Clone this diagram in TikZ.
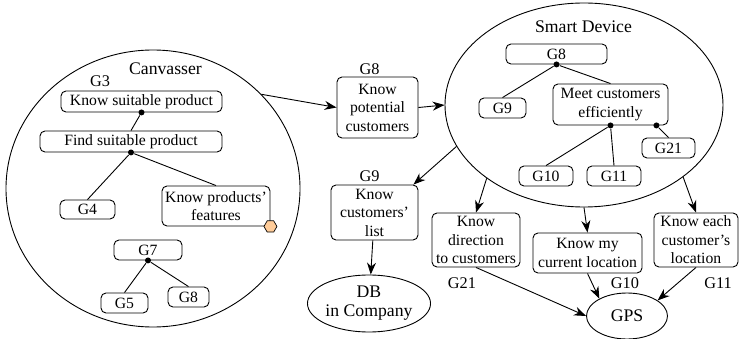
\documentclass[tikz,border=0pt]{standalone}
\usepackage{fontspec}
\setmainfont{Liberation Serif}
\usetikzlibrary{arrows.meta}
\usetikzlibrary{shapes.geometric}
\usetikzlibrary{positioning}

\tikzset{
  goal/.style={draw, rounded corners=5pt, inner sep=0pt, align=center,
    font=\fontsize{15.7}{18.5}\selectfont},
  actor/.style={draw, ellipse, inner sep=0pt, align=center,
    font=\fontsize{17.7}{19}\selectfont},
  tag/.style={inner sep=0pt, font=\fontsize{16.3}{18}\selectfont},
  andpt/.style={circle, fill, inner sep=0pt, minimum size=6pt},
  dep/.style={-{Stealth[length=12pt,width=9pt]}},
}

\begin{document}
\begin{tikzpicture}[x=1pt, y=-1pt, line width=0.9pt]
  \useasboundingbox (0,0) rectangle (739,339);

  % actors
  \node [actor, minimum width=294pt, minimum height=277pt] (canv) at (153,188.5) {};
  \node [actor, minimum width=278pt, minimum height=204pt] (sd) at (584,105) {};
  \node [actor, minimum width=114pt, minimum height=57pt] (db) at (369,303.5) {DB\\in Company};
  \node [actor, minimum width=81pt, minimum height=46pt] (gps) at (627,316) {GPS};
  \node [tag, font=\fontsize{17.7}{19}\selectfont] (canvname) at (165.5,69) {Canvasser};
  \node [tag, font=\fontsize{17.7}{19}\selectfont] (sdname) at (583.5,27) {Smart Device};

  % canvasser goals
  \node [goal, minimum width=161pt, minimum height=21pt] (suit) at (141.5,101.5) {Know suitable product};
  \node [goal, minimum width=182pt, minimum height=21pt] (find) at (131,141.5) {Find suitable product};
  \node [goal, minimum width=55pt, minimum height=19pt] (cg4) at (87.5,209.5) {G4};
  \node [goal, minimum width=108pt, minimum height=40pt] (feat) at (216,206) {Know products'\\features};
  \node [goal, minimum width=68pt, minimum height=20pt] (cg7) at (148,250) {G7};
  \node [goal, minimum width=47pt, minimum height=20pt] (cg5) at (124.5,303) {G5};
  \node [goal, minimum width=41pt, minimum height=20pt] (cg8) at (188.5,297) {G8};
  \node [tag] (lg3) at (100,81) {G3};
  \node [draw, fill={rgb,255:red,255;green,204;blue,153}, regular polygon, regular polygon sides=6,
    inner sep=0pt, minimum size=13pt, line width=0.7pt] (res) at (feat.south east) {};

  \node [andpt] (a1) at (suit.south) {};
  \node [andpt] (a2) at (find.south) {};
  \node [andpt] (a3) at (cg7.south) {};
  \draw (a1) -- (find.north);
  \draw (a2) -- (cg4.north);
  \draw (a2) -- (feat.north);
  \draw (a3) -- (cg5.north);
  \draw (a3) -- (cg8.north);

  % smart device goals
  \node [goal, minimum width=101pt, minimum height=20pt] (sg8) at (556.5,54) {G8};
  \node [goal, minimum width=47pt, minimum height=20pt] (sg9) at (502.5,108) {G9};
  \node [goal, minimum width=115pt, minimum height=41pt] (meet) at (610.5,104.5) {Meet customers\\efficiently};
  \node [goal, minimum width=53pt, minimum height=20pt] (sg21) at (668.5,148) {G21};
  \node [goal, minimum width=54pt, minimum height=20pt] (sg10) at (546,176) {G10};
  \node [goal, minimum width=54pt, minimum height=20pt] (sg11) at (614,176) {G11};

  \node [andpt] (a4) at (sg8.south) {};
  \node [andpt] (a5) at (meet.south) {};
  \node [andpt] (a6) at ([xshift=-12pt]meet.south east) {};
  \draw (a4) -- (sg9.north);
  \draw (a4) -- (meet.north);
  \draw (a5) -- (sg10.north);
  \draw (a5) -- (sg11.north);
  \draw (a6) -- (sg21.north);

  % dependums
  \node [goal, minimum width=81pt, minimum height=61pt] (pot) at (377.5,107.5) {Know\\potential\\customers};
  \node [goal, minimum width=87pt, minimum height=55pt] (list) at (374.5,212.5) {Know\\customers'\\list};
  \node [goal, minimum width=88pt, minimum height=54pt] (dir) at (476,240) {Know\\direction\\to customers};
  \node [goal, minimum width=109pt, minimum height=40pt] (loc) at (587.5,253) {Know my\\current location};
  \node [goal, minimum width=84pt, minimum height=54pt] (each) at (696,240) {Know each\\customer's\\location};
  \node [tag] (lg8) at (369.5,69) {G8};
  \node [tag] (lg9) at (369.5,176) {G9};
  \node [tag] (lg21) at (462,283) {G21};
  \node [tag] (lg10) at (625,283) {G10};
  \node [tag] (lg11) at (718,283) {G11};

  \draw [dep] (canv.41) -- (pot.west);
  \draw [dep] (pot.east) -- (sd.west);
  \draw [dep] (sd.198) -- ([xshift=-5pt]list.north east);
  \draw [dep] (list) -- (db);
  \draw [dep] (sd.217) -- (dir.north);
  \draw [dep] (sd.south) -- (loc.north);
  \draw [dep] (sd.324) -- (each.north);
  \draw [dep] (dir.south) -- (gps.west);
  \draw [dep] (loc.south) -- (gps.148);
  \draw [dep] (each.south) -- (gps.27);

\end{tikzpicture}
\end{document}
